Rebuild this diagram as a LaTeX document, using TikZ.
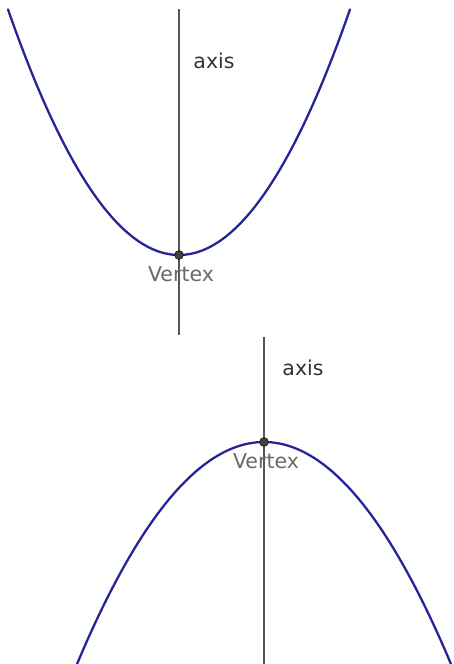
\documentclass[tikz,border=0pt]{standalone}
\usepackage{fontspec}
\setmainfont{DejaVu Sans}
\usepackage{xcolor}
\usepackage{tikz}
\usetikzlibrary{positioning}
\definecolor{curveblue}{RGB}{38,36,150}
\definecolor{axisgray}{RGB}{85,85,85}
\definecolor{vtxgray}{RGB}{105,105,105}

\begin{document}
\begin{tikzpicture}[
      x=1pt, y=-1pt,
      curve/.style={draw=curveblue, line width=2.3pt, line cap=round},
      axisline/.style={draw=axisgray, line width=1.6pt},
      dot/.style={circle, fill=black!75, draw=black, inner sep=0pt, minimum size=9pt},
      axlbl/.style={font=\fontsize{20.5}{24}\selectfont, text=black!80, inner sep=0pt},
      vxlbl/.style={font=\fontsize{20.5}{24}\selectfont, text=vtxgray, inner sep=0pt},
    ]
    \useasboundingbox (0,0) rectangle (453,664);

    % upper parabola, opening upward
    \coordinate (ta) at (179,9);
    \coordinate (tb) at (179,335);
    \draw[axisline] (ta) -- (tb);
    \draw[curve] plot[domain=-1.71:1.71, samples=80, smooth] ({179+100*\x},{255-84*\x*\x});
    \node[dot] (tv) at (179,255) {};
    \node[vxlbl] (tvl) at (181,274) {Vertex};
    \node[axlbl] (tal) at (214,61) {axis};

    % lower parabola, opening downward
    \coordinate (ba) at (264,337);
    \coordinate (bb) at (264,664);
    \draw[axisline] (ba) -- (bb);
    \draw[curve] plot[domain=-1.87:1.87, samples=80, smooth] ({264+100*\x},{442+63.5*\x*\x});
    \node[dot] (bv) at (264,442) {};
    \node[vxlbl] (bvl) at (266,461) {Vertex};
    \node[axlbl] (bal) at (303,368) {axis};
\end{tikzpicture}
\end{document}
